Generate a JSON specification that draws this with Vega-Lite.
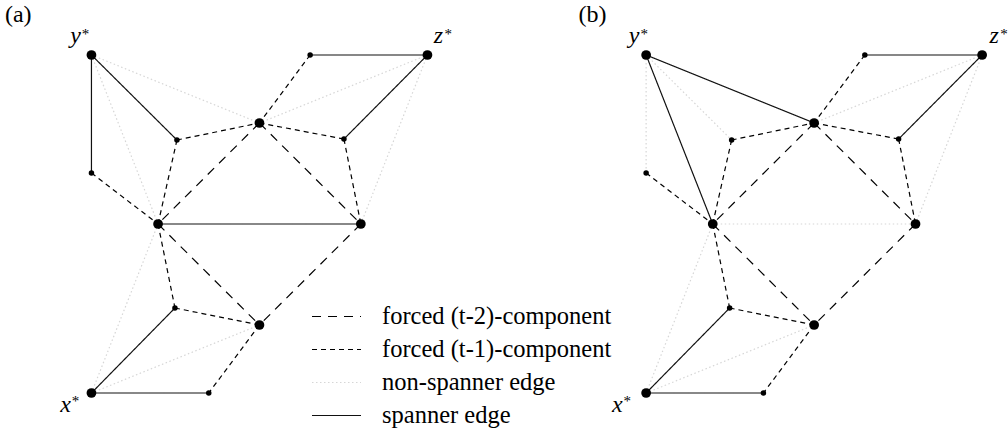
{
  "$schema": "https://vega.github.io/schema/vega-lite/v6.json",
  "width": 1008,
  "height": 436,
  "autosize": {"type": "fit", "contains": "padding"},
  "padding": 0,
  "background": "white",
  "config": {"view": {"stroke": null}},
  "datasets": {
    "nodes": [
      {"k": "a-ys", "x": 92, "y": 55, "kind": "big"},
      {"k": "a-zs", "x": 430, "y": 55, "kind": "big"},
      {"k": "a-A", "x": 312, "y": 55, "kind": "small"},
      {"k": "a-B", "x": 261, "y": 123, "kind": "big"},
      {"k": "a-C", "x": 178, "y": 140, "kind": "small"},
      {"k": "a-D", "x": 346, "y": 139, "kind": "small"},
      {"k": "a-E", "x": 92, "y": 173, "kind": "small"},
      {"k": "a-F", "x": 159, "y": 224, "kind": "big"},
      {"k": "a-G", "x": 363, "y": 224, "kind": "big"},
      {"k": "a-H", "x": 176, "y": 308, "kind": "small"},
      {"k": "a-I", "x": 261, "y": 325, "kind": "big"},
      {"k": "a-xs", "x": 92, "y": 393, "kind": "big"},
      {"k": "a-J", "x": 210, "y": 393, "kind": "small"},
      {"k": "b-ys", "x": 650, "y": 55, "kind": "big"},
      {"k": "b-zs", "x": 988, "y": 55, "kind": "big"},
      {"k": "b-A", "x": 870, "y": 55, "kind": "small"},
      {"k": "b-B", "x": 819, "y": 123, "kind": "big"},
      {"k": "b-C", "x": 736, "y": 140, "kind": "small"},
      {"k": "b-D", "x": 904, "y": 139, "kind": "small"},
      {"k": "b-E", "x": 650, "y": 173, "kind": "small"},
      {"k": "b-F", "x": 717, "y": 224, "kind": "big"},
      {"k": "b-G", "x": 921, "y": 224, "kind": "big"},
      {"k": "b-H", "x": 734, "y": 308, "kind": "small"},
      {"k": "b-I", "x": 819, "y": 325, "kind": "big"},
      {"k": "b-xs", "x": 650, "y": 393, "kind": "big"},
      {"k": "b-J", "x": 768, "y": 393, "kind": "small"}
    ],
    "edges": [
      {"s": "a-ys", "t": "a-B", "type": "non-spanner edge"},
      {"s": "a-ys", "t": "a-F", "type": "non-spanner edge"},
      {"s": "a-zs", "t": "a-B", "type": "non-spanner edge"},
      {"s": "a-zs", "t": "a-G", "type": "non-spanner edge"},
      {"s": "a-xs", "t": "a-F", "type": "non-spanner edge"},
      {"s": "a-xs", "t": "a-I", "type": "non-spanner edge"},
      {"s": "a-B", "t": "a-F", "type": "forced (t-2)-component"},
      {"s": "a-B", "t": "a-G", "type": "forced (t-2)-component"},
      {"s": "a-F", "t": "a-I", "type": "forced (t-2)-component"},
      {"s": "a-G", "t": "a-I", "type": "forced (t-2)-component"},
      {"s": "a-E", "t": "a-F", "type": "forced (t-1)-component"},
      {"s": "a-C", "t": "a-F", "type": "forced (t-1)-component"},
      {"s": "a-C", "t": "a-B", "type": "forced (t-1)-component"},
      {"s": "a-B", "t": "a-D", "type": "forced (t-1)-component"},
      {"s": "a-D", "t": "a-G", "type": "forced (t-1)-component"},
      {"s": "a-A", "t": "a-B", "type": "forced (t-1)-component"},
      {"s": "a-F", "t": "a-H", "type": "forced (t-1)-component"},
      {"s": "a-H", "t": "a-I", "type": "forced (t-1)-component"},
      {"s": "a-I", "t": "a-J", "type": "forced (t-1)-component"},
      {"s": "a-ys", "t": "a-E", "type": "spanner edge"},
      {"s": "a-ys", "t": "a-C", "type": "spanner edge"},
      {"s": "a-A", "t": "a-zs", "type": "spanner edge"},
      {"s": "a-zs", "t": "a-D", "type": "spanner edge"},
      {"s": "a-F", "t": "a-G", "type": "spanner edge"},
      {"s": "a-xs", "t": "a-H", "type": "spanner edge"},
      {"s": "a-xs", "t": "a-J", "type": "spanner edge"},
      {"s": "b-ys", "t": "b-E", "type": "non-spanner edge"},
      {"s": "b-ys", "t": "b-C", "type": "non-spanner edge"},
      {"s": "b-F", "t": "b-G", "type": "non-spanner edge"},
      {"s": "b-zs", "t": "b-B", "type": "non-spanner edge"},
      {"s": "b-zs", "t": "b-G", "type": "non-spanner edge"},
      {"s": "b-xs", "t": "b-F", "type": "non-spanner edge"},
      {"s": "b-xs", "t": "b-I", "type": "non-spanner edge"},
      {"s": "b-B", "t": "b-F", "type": "forced (t-2)-component"},
      {"s": "b-B", "t": "b-G", "type": "forced (t-2)-component"},
      {"s": "b-F", "t": "b-I", "type": "forced (t-2)-component"},
      {"s": "b-G", "t": "b-I", "type": "forced (t-2)-component"},
      {"s": "b-E", "t": "b-F", "type": "forced (t-1)-component"},
      {"s": "b-C", "t": "b-F", "type": "forced (t-1)-component"},
      {"s": "b-C", "t": "b-B", "type": "forced (t-1)-component"},
      {"s": "b-B", "t": "b-D", "type": "forced (t-1)-component"},
      {"s": "b-D", "t": "b-G", "type": "forced (t-1)-component"},
      {"s": "b-A", "t": "b-B", "type": "forced (t-1)-component"},
      {"s": "b-F", "t": "b-H", "type": "forced (t-1)-component"},
      {"s": "b-H", "t": "b-I", "type": "forced (t-1)-component"},
      {"s": "b-I", "t": "b-J", "type": "forced (t-1)-component"},
      {"s": "b-ys", "t": "b-F", "type": "spanner edge"},
      {"s": "b-ys", "t": "b-B", "type": "spanner edge"},
      {"s": "b-A", "t": "b-zs", "type": "spanner edge"},
      {"s": "b-zs", "t": "b-D", "type": "spanner edge"},
      {"s": "b-xs", "t": "b-H", "type": "spanner edge"},
      {"s": "b-xs", "t": "b-J", "type": "spanner edge"}
    ],
    "labels": [
      {"text": "y", "x": 76, "y": 43, "kind": "letter"},
      {"text": "z", "x": 441, "y": 43, "kind": "letter"},
      {"text": "x", "x": 66, "y": 412, "kind": "letter"},
      {"text": "y", "x": 638, "y": 43, "kind": "letter"},
      {"text": "z", "x": 1000, "y": 43, "kind": "letter"},
      {"text": "x", "x": 621, "y": 412, "kind": "letter"},
      {"text": "*", "x": 86, "y": 39, "kind": "star"},
      {"text": "*", "x": 451, "y": 39, "kind": "star"},
      {"text": "*", "x": 76, "y": 406, "kind": "star"},
      {"text": "*", "x": 648, "y": 39, "kind": "star"},
      {"text": "*", "x": 1010, "y": 39, "kind": "star"},
      {"text": "*", "x": 631, "y": 406, "kind": "star"},
      {"text": "(a)", "x": 5, "y": 22, "kind": "cap"},
      {"text": "(b)", "x": 582, "y": 22, "kind": "cap"}
    ]
  },
  "layer": [
    {
      "data": {"name": "edges"},
      "transform": [
        {"lookup": "s", "from": {"data": {"name": "nodes"}, "key": "k", "fields": ["x", "y"]}, "as": ["x1", "y1"]},
        {"lookup": "t", "from": {"data": {"name": "nodes"}, "key": "k", "fields": ["x", "y"]}, "as": ["x2", "y2"]}
      ],
      "mark": {"type": "rule"},
      "encoding": {
        "x": {"field": "x1", "type": "quantitative", "scale": {"domain": [0, 1008], "nice": false, "zero": false}, "axis": null},
        "y": {"field": "y1", "type": "quantitative", "scale": {"domain": [0, 436], "reverse": true, "nice": false, "zero": false}, "axis": null},
        "x2": {"field": "x2"},
        "y2": {"field": "y2"},
        "stroke": {
          "field": "type", "type": "nominal",
          "scale": {"domain": ["forced (t-2)-component", "forced (t-1)-component", "non-spanner edge", "spanner edge"], "range": ["#000000", "#000000", "#d6d6d6", "#111111"]},
          "legend": {"title": null, "orient": "none", "legendX": 311, "legendY": 300, "symbolType": "stroke", "symbolSize": 2401, "symbolStrokeWidth": 1.2, "labelFont": "Liberation Serif", "labelFontSize": 24.5, "labelColor": "#000000", "labelOffset": 20, "clipHeight": 33, "rowPadding": 0, "labelLimit": 400, "padding": 0}
        },
        "strokeDash": {
          "field": "type", "type": "nominal",
          "scale": {"domain": ["forced (t-2)-component", "forced (t-1)-component", "non-spanner edge", "spanner edge"], "range": [[9, 7], [5, 4], [1.5, 2.5], [1, 0]]},
          "legend": {"title": null, "orient": "none", "legendX": 311, "legendY": 300, "symbolType": "stroke", "symbolSize": 2401, "symbolStrokeWidth": 1.2, "labelFont": "Liberation Serif", "labelFontSize": 24.5, "labelColor": "#000000", "labelOffset": 20, "clipHeight": 33, "rowPadding": 0, "labelLimit": 400, "padding": 0}
        },
        "strokeWidth": {
          "field": "type", "type": "nominal",
          "scale": {"domain": ["forced (t-2)-component", "forced (t-1)-component", "non-spanner edge", "spanner edge"], "range": [1.2, 1.2, 1, 1.4]},
          "legend": null
        }
      }
    },
    {
      "data": {"name": "nodes"},
      "mark": {"type": "point", "filled": true, "opacity": 1, "color": "#000000"},
      "encoding": {
        "x": {"field": "x", "type": "quantitative"},
        "y": {"field": "y", "type": "quantitative"},
        "size": {"field": "kind", "type": "nominal", "scale": {"domain": ["big", "small"], "range": [95, 30]}, "legend": null}
      }
    },
    {
      "data": {"name": "labels"},
      "transform": [{"filter": "datum.kind == 'letter'"}],
      "mark": {"type": "text", "font": "Liberation Serif", "fontStyle": "italic", "fontSize": 24, "align": "center", "baseline": "alphabetic", "color": "#000000"},
      "encoding": {
        "x": {"field": "x", "type": "quantitative"},
        "y": {"field": "y", "type": "quantitative"},
        "text": {"field": "text"}
      }
    },
    {
      "data": {"name": "labels"},
      "transform": [{"filter": "datum.kind == 'star'"}],
      "mark": {"type": "text", "font": "Liberation Serif", "fontSize": 15, "align": "center", "baseline": "alphabetic", "color": "#000000"},
      "encoding": {
        "x": {"field": "x", "type": "quantitative"},
        "y": {"field": "y", "type": "quantitative"},
        "text": {"field": "text"}
      }
    },
    {
      "data": {"name": "labels"},
      "transform": [{"filter": "datum.kind == 'cap'"}],
      "mark": {"type": "text", "font": "Liberation Serif", "fontSize": 24, "align": "left", "baseline": "alphabetic", "color": "#000000"},
      "encoding": {
        "x": {"field": "x", "type": "quantitative"},
        "y": {"field": "y", "type": "quantitative"},
        "text": {"field": "text"}
      }
    }
  ]
}
